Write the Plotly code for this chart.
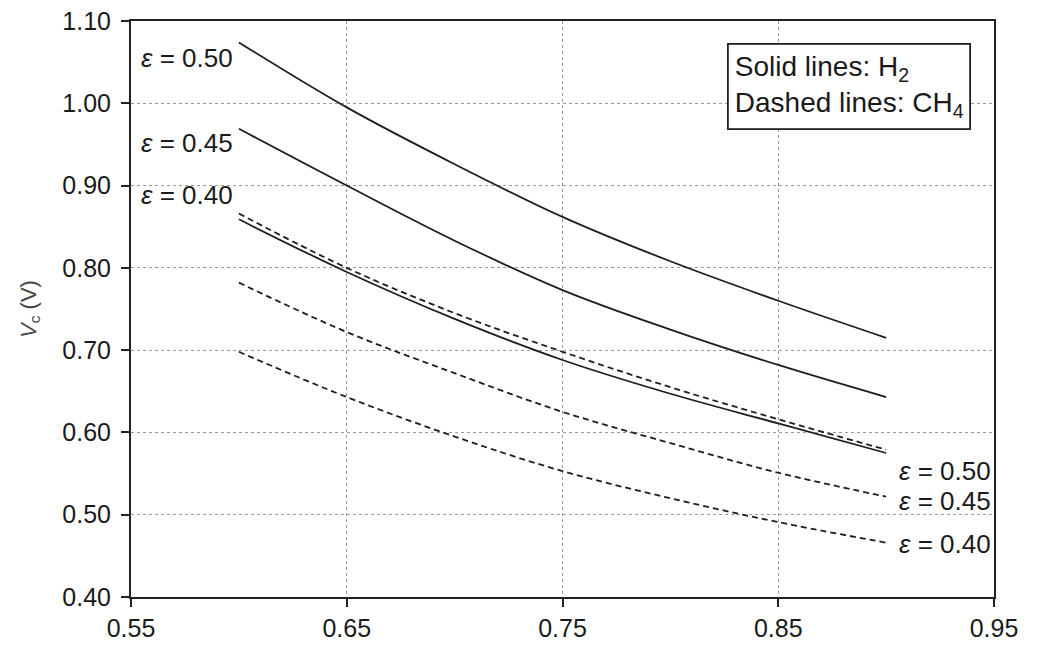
import plotly.graph_objects as go

# Data
x_vals = [0.60, 0.65, 0.70, 0.75, 0.80, 0.85, 0.90]

h2_eps050 = [1.074, 0.995, 0.926, 0.862, 0.808, 0.760, 0.715]
h2_eps045 = [0.969, 0.900, 0.833, 0.773, 0.725, 0.682, 0.643]
h2_eps040 = [0.859, 0.795, 0.738, 0.688, 0.647, 0.611, 0.575]

ch4_eps050 = [0.866, 0.800, 0.745, 0.698, 0.655, 0.616, 0.579]
ch4_eps045 = [0.782, 0.722, 0.672, 0.625, 0.587, 0.551, 0.522]
ch4_eps040 = [0.698, 0.643, 0.595, 0.553, 0.520, 0.491, 0.466]

x_ticks = [0.55, 0.65, 0.75, 0.85, 0.95]
x_tick_labels = ["0.55", "0.65", "0.75", "0.85", "0.95"]
y_ticks = [0.40, 0.50, 0.60, 0.70, 0.80, 0.90, 1.00, 1.10]
y_tick_labels = ["0.40", "0.50", "0.60", "0.70", "0.80", "0.90", "1.00", "1.10"]

LINE = "#1e1e1e"
TXT = "#1a1a1a"
FONT = "Liberation Sans, Arial, sans-serif"
fig = go.Figure()

for name, ys in [("H2 ε=0.50", h2_eps050), ("H2 ε=0.45", h2_eps045), ("H2 ε=0.40", h2_eps040)]:
    fig.add_trace(go.Scatter(x=x_vals, y=ys, mode="lines", name=name,
                             line=dict(color=LINE, width=1.8, shape="spline")))
for name, ys in [("CH4 ε=0.50", ch4_eps050), ("CH4 ε=0.45", ch4_eps045), ("CH4 ε=0.40", ch4_eps040)]:
    fig.add_trace(go.Scatter(x=x_vals, y=ys, mode="lines", name=name,
                             line=dict(color=LINE, width=1.8, shape="spline", dash="6px,4px")))

label_font = dict(family=FONT, size=26, color=TXT)

def eps_text(v):
    return f"<i>ε</i> = {v}"

annotations = []
# left labels (solid lines)
for txt, yv in [("0.50", 1.055), ("0.45", 0.952), ("0.40", 0.888)]:
    annotations.append(dict(x=0.5535, y=yv, xref="x", yref="y", text=eps_text(txt),
                            showarrow=False, xanchor="left", yanchor="middle", font=label_font))
# right labels (dashed lines)
for txt, yv in [("0.50", 0.553), ("0.45", 0.517), ("0.40", 0.465)]:
    annotations.append(dict(x=0.9495, y=yv, xref="x", yref="y", text=eps_text(txt),
                            showarrow=False, xanchor="right", yanchor="middle", font=label_font))
# legend box
annotations.append(dict(x=0.691, y=0.962, xref="paper", yref="paper",
                        text="Solid lines: H<sub>2</sub><br>Dashed lines: CH<sub>4</sub>",
                        showarrow=False, xanchor="left", yanchor="top", align="left",
                        font=dict(family=FONT, size=28, color=TXT),
                        bordercolor="#222", borderwidth=1.8, borderpad=6, bgcolor="white"))

fig.update_layout(
    width=1042, height=649,
    margin=dict(l=131, r=48, t=21, b=52),
    paper_bgcolor="white", plot_bgcolor="white",
    showlegend=False,
    annotations=annotations,
    font=dict(family=FONT, size=26, color=TXT),
)
axis_common = dict(showline=True, linecolor="#222", linewidth=2, mirror=True,
                   ticks="outside", ticklen=8, tickwidth=1.5, tickcolor="#222",
                   showgrid=True, gridcolor="#9a9a9a", gridwidth=1.3, griddash="dot",
                   zeroline=False, automargin=False,
                   tickfont=dict(family=FONT, size=25, color=TXT))
fig.update_xaxes(range=[0.55, 0.95], tickvals=x_ticks, ticktext=x_tick_labels, **axis_common)
fig.update_yaxes(range=[0.40, 1.10], tickvals=y_ticks, ticktext=y_tick_labels,
                 ticklabelstandoff=5,
                 title=dict(text="<i>V</i><sub>c</sub> (V)", font=dict(family=FONT, size=22, color="#444"),
                            standoff=20),
                 **axis_common)

fig.write_html("out.html")
